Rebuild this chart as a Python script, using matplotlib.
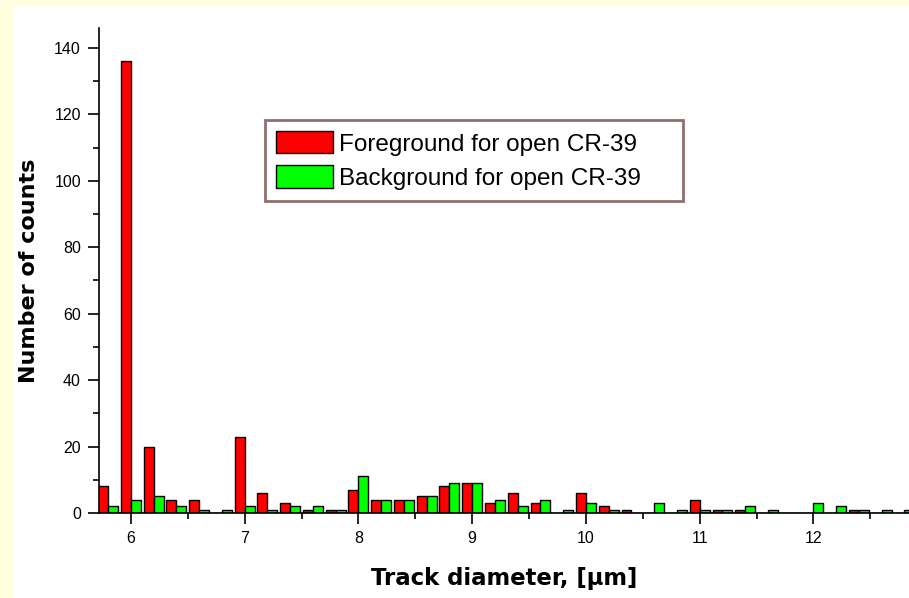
import matplotlib.pyplot as plt
from matplotlib.patches import Rectangle
from matplotlib.ticker import MultipleLocator
import numpy as np

# bin centres (track diameter, um) and counts
diameter = [5.8, 6.0, 6.2, 6.4, 6.6, 6.8, 7.0, 7.2, 7.4, 7.6, 7.8,
            8.0, 8.2, 8.4, 8.6, 8.8, 9.0, 9.2, 9.4, 9.6, 9.8,
            10.0, 10.2, 10.4, 10.6, 10.8, 11.0, 11.2, 11.4, 11.6, 11.8,
            12.0, 12.2, 12.4, 12.6, 12.8]
foreground = [8, 136, 20, 4, 4, 0, 23, 6, 3, 1, 1,
              7, 4, 4, 5, 8, 9, 3, 6, 3, 0,
              6, 2, 1, 0, 0, 4, 1, 1, 0, 0,
              0, 0, 1, 0, 0]
background = [2, 4, 5, 2, 1, 1, 2, 1, 2, 2, 1,
              11, 4, 4, 5, 9, 9, 4, 2, 4, 1,
              3, 1, 0, 3, 1, 1, 1, 2, 1, 0,
              3, 2, 1, 1, 1]
labels = ["Foreground for open CR-39", "Background for open CR-39"]

W, H = 909, 598
fig = plt.figure(figsize=(W / 100, H / 100), dpi=100)
fig.patch.set_facecolor("#FFFFE0")
# white panel behind the plot
fig.add_artist(Rectangle((13 / W, 0), 1, 1 - 6 / H, transform=fig.transFigure,
                         facecolor="white", edgecolor="none", zorder=-10))

ax = fig.add_axes([99 / W, 1 - 513 / H, (909 - 99) / W, (513 - 28) / H])
ax.set_facecolor("none")

x = np.array(diameter)
w = 0.087
ax.bar(x - w / 2, foreground, width=w, color="#FF0000", edgecolor="black",
       linewidth=1.0, label=labels[0])
ax.bar(x + w / 2, background, width=w, color="#00FF00", edgecolor="black",
       linewidth=1.0, label=labels[1])

ax.set_xlim(5.72, 12.84)
ax.set_ylim(0, 146)
ax.spines["top"].set_visible(False)
ax.spines["right"].set_visible(False)
ax.spines["left"].set_linewidth(1.2)
ax.spines["bottom"].set_linewidth(1.2)

ax.xaxis.set_major_locator(MultipleLocator(1))
ax.xaxis.set_minor_locator(MultipleLocator(0.5))
ax.yaxis.set_major_locator(MultipleLocator(20))
ax.yaxis.set_minor_locator(MultipleLocator(10))
ax.tick_params(which="major", direction="out", length=8, width=1.2, pad=5)
ax.tick_params(which="minor", direction="out", length=4, width=1.2)
ax.tick_params(axis="x", which="major", pad=5)
for t in ax.get_xticklabels() + ax.get_yticklabels():
    t.set_fontfamily("Liberation Sans")
    t.set_fontsize(11.5)

ax.set_xlabel("Track diameter, [μm]", fontsize=16.4, fontweight="bold", labelpad=15)
ax.set_ylabel("Number of counts", fontsize=16, fontweight="bold", labelpad=11)

# legend box placed in pixel terms (left 265, right 683, top 120, bottom 205)
pw, ph = 909 - 99, 513 - 28
box = ((265 - 99) / pw, (513 - 205) / ph, (683 - 265) / pw, (205 - 120) / ph)
leg = ax.legend(loc="upper left", bbox_to_anchor=box, mode="expand",
                prop={"family": "Liberation Sans", "size": 17.5},
                fancybox=False, framealpha=1, edgecolor="#8F7070",
                handlelength=2.35, handleheight=1.05, handletextpad=0.25,
                borderpad=0.45, labelspacing=0.4, borderaxespad=0)
leg.get_frame().set_linewidth(2)

fig.savefig("out.png", dpi=100, facecolor=fig.get_facecolor())
